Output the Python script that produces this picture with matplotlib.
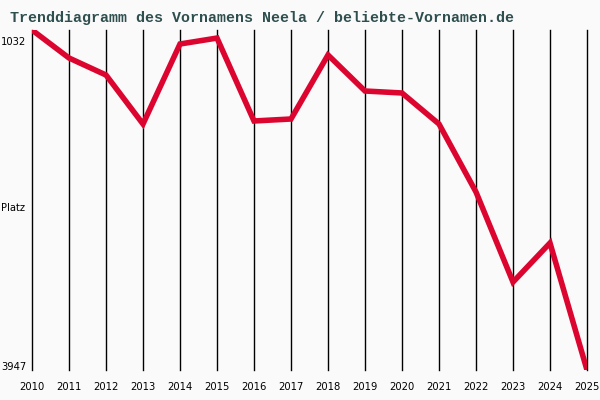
import matplotlib
matplotlib.use("Agg")
from matplotlib import pyplot as plt

# ranks (lower rank = more popular)
years = list(range(2010, 2026))
ranks = [1032, 1272, 1418, 1838, 1152, 1101, 1812, 1795,
         1246, 1555, 1572, 1838, 2421, 3193, 2858, 3947]
rank_best = 1032
rank_worst = 3947
title = "Trenddiagramm des Vornamens Neela / beliebte-Vornamen.de"

W, H = 600, 400
fig = plt.figure(figsize=(W / 100, H / 100), dpi=100, facecolor="#fafafa")
# plot area in pixels: x 32..587, y 30..370
ax = fig.add_axes([32 / W, 1 - 370 / H, (587 - 32) / W, (370 - 30) / H])
ax.set_facecolor("#fafafa")

for yr in years:
    ax.axvline(yr, color="black", lw=1.0, zorder=1, clip_on=False)

ax.plot(years, ranks, color="#dc0530", lw=4.0, solid_joinstyle="miter", zorder=3)

ax.set_xlim(years[0], years[-1])
ax.set_ylim(rank_worst, rank_best)
for side in ax.spines.values():
    side.set_visible(False)
ax.set_xticks(years)
ax.set_xticklabels([str(y) for y in years], fontsize=7.2, family="DejaVu Sans")
ax.tick_params(axis="x", length=0, pad=9)
ax.set_yticks([])

fig.text(1 / W, 1 - 42 / H, str(rank_best), fontsize=7.2, va="center", ha="left")
fig.text(1 / W, 1 - 208 / H, "Platz", fontsize=7.2, va="center", ha="left")
fig.text(1 / W, 1 - 367 / H, str(rank_worst), fontsize=7.2, va="center", ha="left")

fig.text(10 / W, 1 - 18 / H, title, fontsize=10.8, family="Liberation Mono",
         fontweight="bold", color="#2f4f4f", va="center", ha="left")

fig.savefig("out.png", dpi=100, facecolor=fig.get_facecolor())
